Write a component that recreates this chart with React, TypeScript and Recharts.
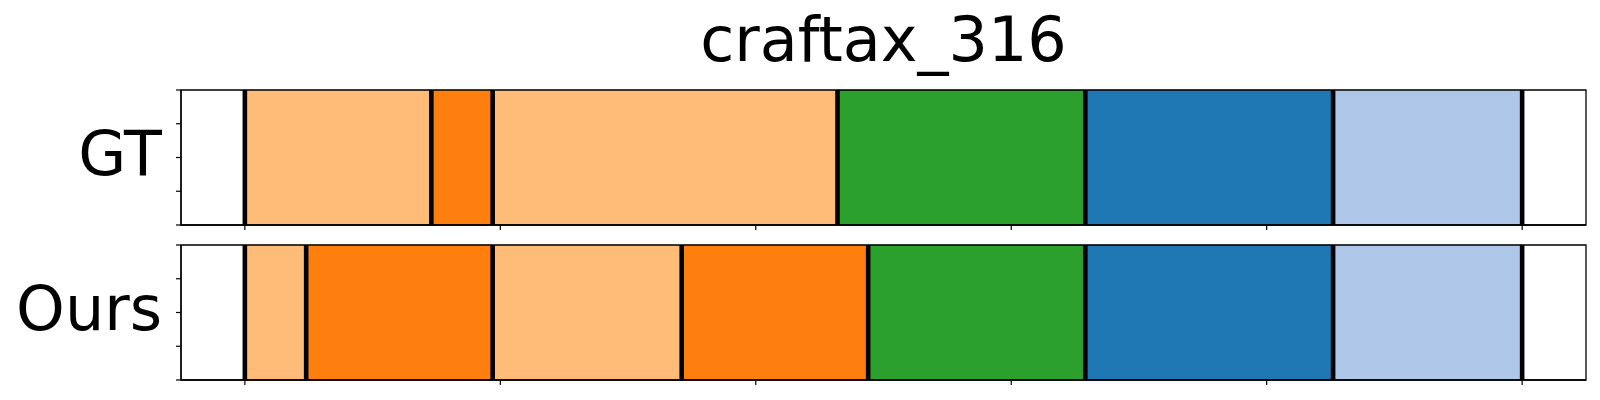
import React from "react";
import {
  ComposedChart,
  XAxis,
  YAxis,
  Scatter,
  ReferenceArea,
  Label,
} from "recharts";

// segment boundaries (frames) and the action class of each segment
const gtBounds = [0, 73, 97, 232, 329, 426, 500];
const gtClasses = [1, 0, 1, 2, 3, 4];
const oursBounds = [0, 24, 97, 171, 244, 329, 426, 500];
const oursClasses = [1, 0, 1, 0, 2, 3, 4];

const xTicks = [0, 100, 200, 300, 400, 500];
const yTicks = [0, 0.25, 0.5, 0.75, 1];

const palette = ["#ff7f0e", "#ffbb78", "#2ca02c", "#1f77b4", "#aec7e8"];
const font = "'DejaVu Sans', sans-serif";
const edgeHalf = 0.9; // half width of the black boundary marks, in frames

function SegmentRow({
  label,
  bounds,
  classes,
  height,
  margin,
}: {
  label: string;
  bounds: number[];
  classes: number[];
  height: number;
  margin: any;
}) {
  const pts = bounds.map((b) => ({ x: b, y: 0.5 }));
  return (
    <ComposedChart width={1600} height={height} margin={margin} data={pts}>
      <XAxis
        type="number"
        dataKey="x"
        domain={[-25, 525]}
        ticks={xTicks}
        tickFormatter={() => ""}
        tickSize={5}
        height={10}
        allowDataOverflow
        axisLine={{ stroke: "#000", strokeWidth: 1.3 }}
        tickLine={{ stroke: "#000", strokeWidth: 1.2 }}
      />
      <YAxis
        type="number"
        dataKey="y"
        domain={[0, 1]}
        ticks={yTicks}
        tickFormatter={() => ""}
        tickSize={5}
        width={1}
        allowDataOverflow
        axisLine={{ stroke: "#000", strokeWidth: 1.3 }}
        tickLine={{ stroke: "#000", strokeWidth: 1.2 }}
      >
        <Label
          value={label}
          position="left"
          offset={18}
          dy={-5}
          style={{ fontSize: 62, fontFamily: font, fill: "#000" }}
        />
      </YAxis>
      <Scatter
        data={pts}
        dataKey="y"
        fill="none"
        shape={() => <g />}
        isAnimationActive={false}
      />
      {classes.map((c, i) => (
        <ReferenceArea
          key={"a" + i}
          x1={bounds[i]}
          x2={bounds[i + 1]}
          y1={0}
          y2={1}
          fill={palette[c]}
          fillOpacity={1}
          stroke={palette[c]}
          strokeOpacity={0.6}
        />
      ))}
      {bounds.map((b, i) => (
        <ReferenceArea
          key={"l" + i}
          x1={b - edgeHalf}
          x2={b + edgeHalf}
          y1={0}
          y2={1}
          fill="#000"
          fillOpacity={1}
          stroke="none"
        />
      ))}
      <ReferenceArea
        x1={-25}
        x2={525}
        y1={0}
        y2={1}
        fill="none"
        stroke="#000"
        strokeWidth={1.3}
      />
    </ComposedChart>
  );
}

export default function App() {
  return (
    <div
      style={{
        position: "absolute",
        left: 0,
        top: 0,
        width: 1600,
        height: 400,
        background: "#fff",
        fontFamily: font,
      }}
    >
      <div
        style={{
          position: "absolute",
          left: 181,
          width: 1405,
          top: 4,
          textAlign: "center",
          fontSize: 62,
          lineHeight: "72px",
          color: "#000",
        }}
      >
        craftax_316
      </div>
      <div style={{ position: "absolute", left: 0, top: 0 }}>
        <SegmentRow
          label="GT"
          bounds={gtBounds}
          classes={gtClasses}
          height={240}
          margin={{ top: 90, right: 14, bottom: 5, left: 180 }}
        />
      </div>
      <div style={{ position: "absolute", left: 0, top: 235 }}>
        <SegmentRow
          label="Ours"
          bounds={oursBounds}
          classes={oursClasses}
          height={165}
          margin={{ top: 10, right: 14, bottom: 10, left: 180 }}
        />
      </div>
    </div>
  );
}
